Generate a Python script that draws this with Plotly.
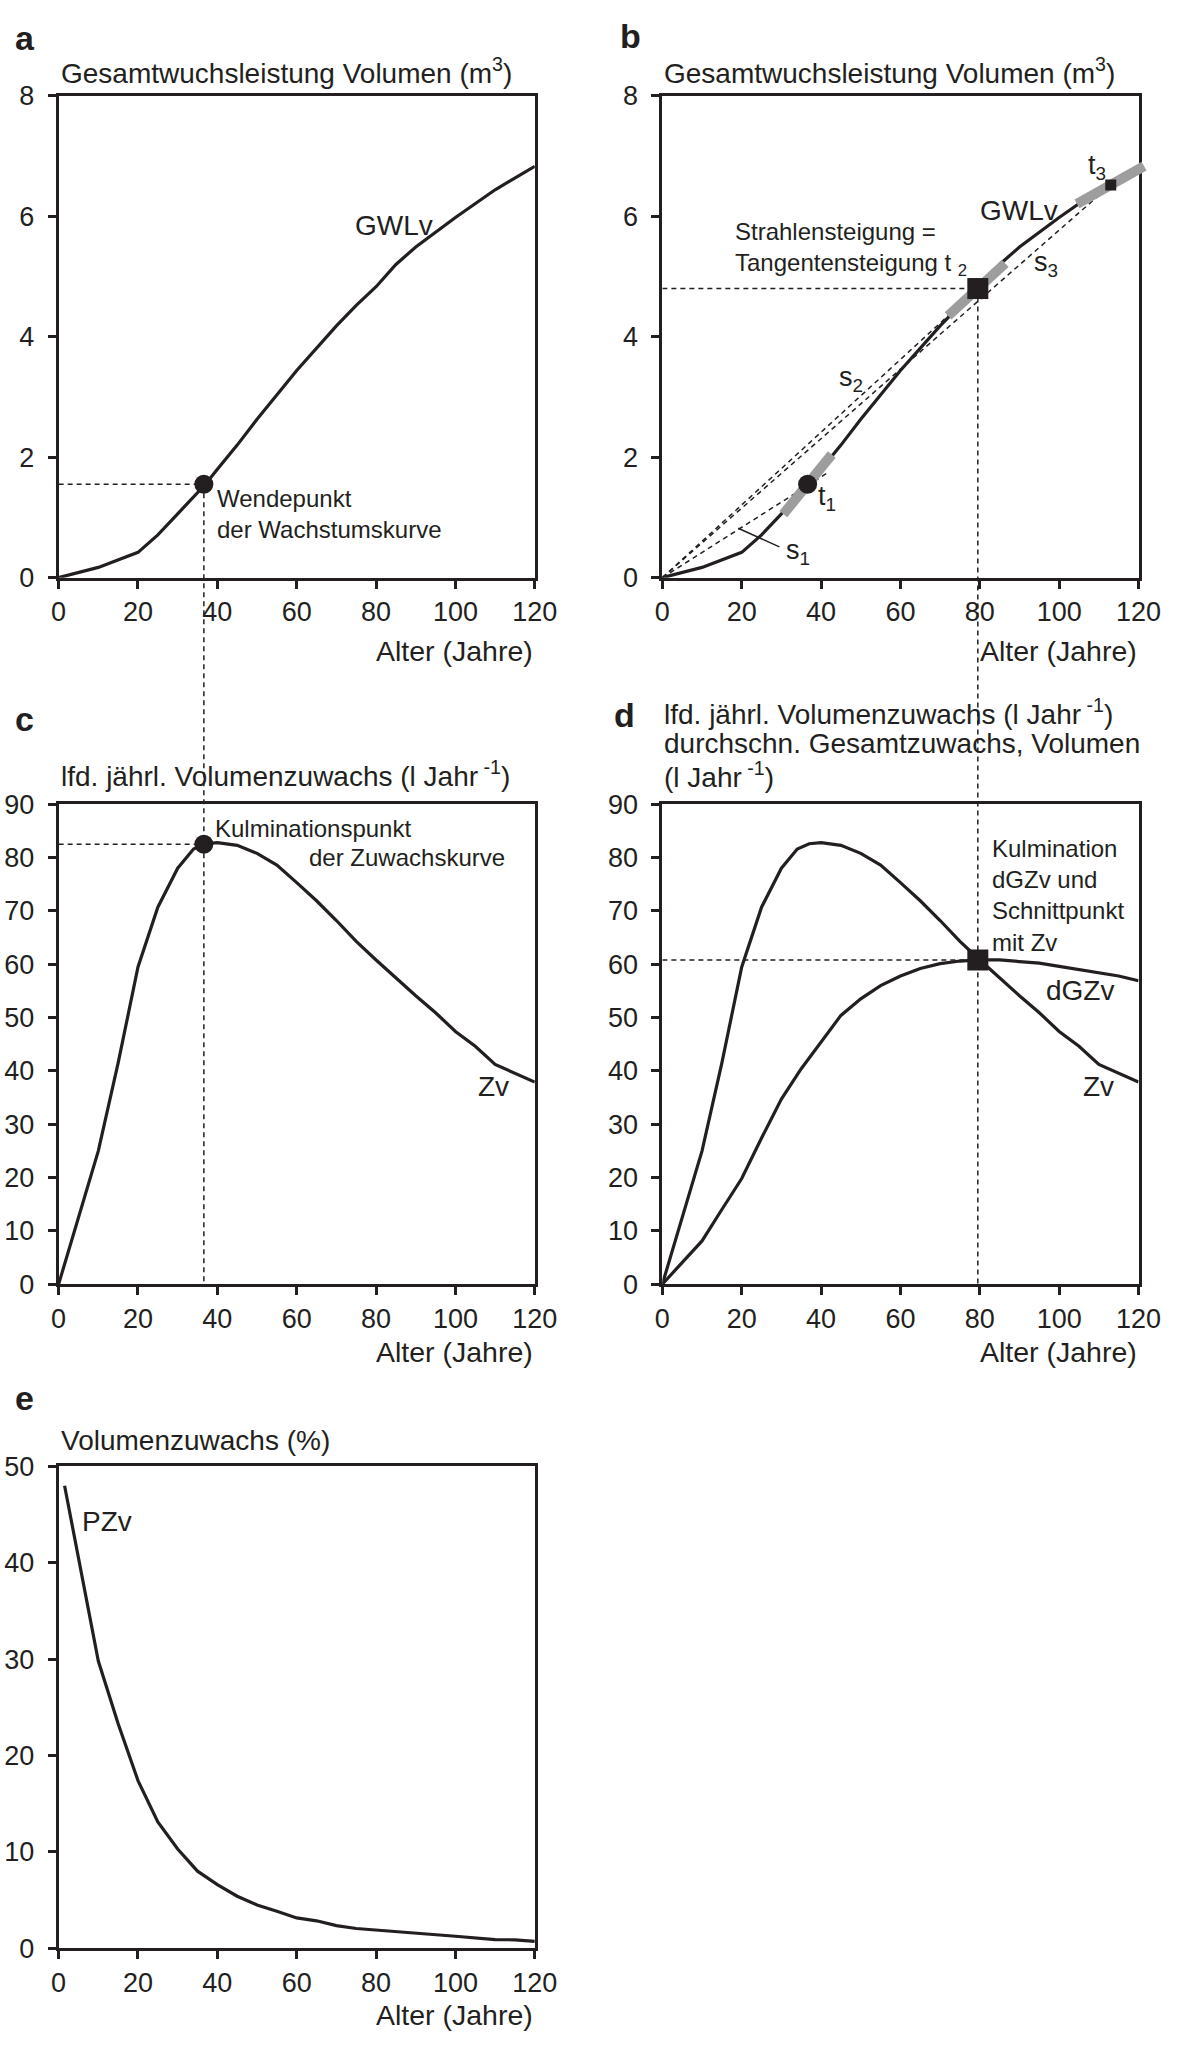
import plotly.graph_objects as go

# ---- values ----
# GWLv: total volume production (m3) by age
AGE = [0, 10, 20, 25, 30, 37, 40, 45, 50, 60, 70, 75, 80, 85, 90, 100, 110, 120]
GWLV = [0, 0.17, 0.42, 0.71, 1.06, 1.55, 1.8, 2.2, 2.63, 3.44, 4.18, 4.52, 4.83, 5.2, 5.49, 5.98, 6.44, 6.83]

# Zv: current annual volume increment (l/year)
ZV_AGE = [0, 10, 15, 20, 25, 30, 34, 37, 40, 45, 50, 55, 60, 65, 70, 75, 80, 85, 90, 95, 100, 105, 110, 120]
ZV = [0, 25, 41.5, 59.5, 70.7, 78, 81.6, 82.6, 82.8, 82.3, 80.8, 78.6, 75.3, 71.9, 68.2, 64.3,
      60.8, 57.4, 54.1, 50.9, 47.4, 44.6, 41.2, 37.9]

# dGZv: mean annual volume increment (l/year)
DGZV_AGE = [0, 10, 15, 20, 25, 30, 35, 40, 45, 50, 55, 60, 65, 70, 75, 80, 85, 90, 95, 100, 110, 115, 120]
DGZV = [0, 8.1, 14, 19.8, 27.4, 34.7, 40.4, 45.4, 50.4, 53.5, 56, 57.8, 59.2, 60.1, 60.6, 60.8,
        60.8, 60.5, 60.2, 59.6, 58.4, 57.8, 56.9]

# PZv: volume increment percent
PZV_AGE = [1.5, 5, 10, 15, 20, 25, 30, 35, 40, 45, 50, 55, 60, 65, 70, 75, 80, 90, 100, 110, 115, 120]
PZV = [48, 40.4, 29.8, 23.3, 17.4, 13.1, 10.3, 8, 6.6, 5.4, 4.5, 3.85, 3.15, 2.85, 2.35, 2.05,
       1.9, 1.6, 1.25, 0.9, 0.88, 0.72]

# special points
WENDE_AGE, WENDE_VOL = 36.6, 1.55      # inflection of GWLv
ZV_PEAK = 82.5                          # culmination of Zv
KULM_AGE, KULM_ZV = 79.5, 60.8          # culmination of dGZv

# tangent points t1..t3 on GWLv and their tangent slopes
T_AGE = [36.6, 79.5, 113]
T_VOL = [1.55, 4.8, 6.52]
T_SLOPE = [0.081, 0.0604, 0.037]
T_FROM = [30.5, 72, 104.5]
T_TO = [42.7, 86.4, 121.4]
T_SYMBOL = ["circle", "square", "square"]
T_SIZE = [19, 21, 11]

# rays s1..s3 from the origin
S_END_AGE = [41.4, 79.5, 113]
S_END_VOL = [1.73, 4.8, 6.52]
S1_LEADER_AGE = [19.1, 29.5]
S1_LEADER_VOL = [0.82, 0.51]

INK = "#231f20"
GRAY = "#9d9d9d"
FONT = "Liberation Sans, Arial, sans-serif"
DASH = "5px,4px"

W, H = 1181, 2049


def fx(px):
    return px / W


def fy(py):
    return 1 - py / H


X_LEFT = [fx(52), fx(541)]
X_RIGHT = [fx(672), fx(1161)]
Y_TOP = [fy(571), fy(82)]
Y_MID = [fy(1288), fy(801)]
Y_BOT = [fy(1962), fy(1473)]


def to_paper(dom, v, vmax):
    return dom[0] + v / vmax * (dom[1] - dom[0])


def axis(dom, rng, dtick, anchor, standoff=None):
    d = dict(domain=dom, range=rng, dtick=dtick, anchor=anchor,
             showline=True, linecolor=INK, linewidth=3, mirror=True,
             ticks="outside", ticklen=8, tickwidth=3, tickcolor=INK,
             showgrid=False, zeroline=False, fixedrange=True,
             tickfont=dict(family=FONT, size=27, color=INK))
    if standoff is not None:
        d["ticklabelstandoff"] = standoff
    return d


fig = go.Figure()


def line(x, y, xa, ya, width=3.2, color=INK, dash=None):
    fig.add_trace(go.Scatter(x=x, y=y, mode="lines", xaxis=xa, yaxis=ya, hoverinfo="skip",
                             line=dict(color=color, width=width, dash=dash)))


def point(x, y, xa, ya, symbol, size):
    fig.add_trace(go.Scatter(x=[x], y=[y], mode="markers", xaxis=xa, yaxis=ya, hoverinfo="skip",
                             marker=dict(symbol=symbol, size=size, color=INK, line=dict(width=0))))


# a
line([0, WENDE_AGE], [WENDE_VOL, WENDE_VOL], "x", "y", 1.5, dash=DASH)
line(AGE, GWLV, "x", "y")
point(WENDE_AGE, WENDE_VOL, "x", "y", "circle", 19)

# b
line([0, T_AGE[1]], [T_VOL[1], T_VOL[1]], "x2", "y2", 1.5, dash=DASH)
for ea, ev in zip(S_END_AGE, S_END_VOL):
    line([0, ea], [0, ev], "x2", "y2", 1.5, dash=DASH)
line(S1_LEADER_AGE, S1_LEADER_VOL, "x2", "y2", 1.5)
line(AGE, GWLV, "x2", "y2")
# tangents and points on a slightly wider invisible subplot so t3 can pass the frame
for a, v, k, f, t in zip(T_AGE, T_VOL, T_SLOPE, T_FROM, T_TO):
    line([f, t], [v + k * (f - a), v + k * (t - a)], "x6", "y6", 10, GRAY)
for a, v, s, z in zip(T_AGE, T_VOL, T_SYMBOL, T_SIZE):
    point(a, v, "x6", "y6", s, z)

# c
line([0, WENDE_AGE], [ZV_PEAK, ZV_PEAK], "x3", "y3", 1.5, dash=DASH)
line(ZV_AGE, ZV, "x3", "y3")
point(WENDE_AGE, ZV_PEAK, "x3", "y3", "circle", 19)

# d
line([0, KULM_AGE], [KULM_ZV, KULM_ZV], "x4", "y4", 1.5, dash=DASH)
line(ZV_AGE, ZV, "x4", "y4")
line(DGZV_AGE, DGZV, "x4", "y4")
point(KULM_AGE, KULM_ZV, "x4", "y4", "square", 21)

# e
line(PZV_AGE, PZV, "x5", "y5")

# long dashed guides running from the upper panels into the middle ones
for xdom, age, vol in [(X_LEFT, WENDE_AGE, WENDE_VOL), (X_RIGHT, KULM_AGE, T_VOL[1])]:
    xp = to_paper(xdom, age, 120)
    fig.add_shape(type="line", xref="paper", yref="paper", x0=xp, x1=xp,
                  y0=to_paper(Y_TOP, vol, 8), y1=Y_MID[0], layer="below",
                  line=dict(color=INK, width=1.5, dash=DASH))

ann = []


def text(x, y, s, xref, yref, size=24, xanchor="left", yanchor="middle", **kw):
    ann.append(dict(x=x, y=y, text=s, xref=xref, yref=yref, showarrow=False,
                    xanchor=xanchor, yanchor=yanchor, align="left",
                    font=dict(family=FONT, size=size, color=INK), **kw))


# panel titles (left edge on the axis) and x axis titles (right edge on the frame)
TITLE_1 = "Gesamtwuchsleistung Volumen (m<sup>3</sup>)"
TITLE_2 = "lfd. jährl. Volumenzuwachs (l Jahr<sup> -1</sup>)"
for xdom, py, s in [(X_LEFT, 57, TITLE_1), (X_RIGHT, 57, TITLE_1), (X_LEFT, 770, TITLE_2),
                    (X_RIGHT, 707, TITLE_2),
                    (X_RIGHT, 739, "durchschn. Gesamtzuwachs, Volumen"),
                    (X_RIGHT, 771, "(l Jahr<sup> -1</sup>)"),
                    (X_LEFT, 1447, "Volumenzuwachs (%)")]:
    text(xdom[0], fy(py), s, "paper", "paper", size=28)
for xdom, py in [(X_LEFT, 645), (X_RIGHT, 645), (X_LEFT, 1357), (X_RIGHT, 1357), (X_LEFT, 2030)]:
    text(xdom[1], fy(py), "Alter (Jahre)", "paper", "paper", size=28.5, xanchor="right")

for lab, px, py in [("a", 5, 23), ("b", 626, 21), ("c", 5, 714), ("d", 620, 710), ("e", 5, 1404)]:
    text(fx(px), fy(py), "<b>%s</b>" % lab, "paper", "paper", size=34)

# a labels
text(84.6, 5.85, "GWLv", "x", "y", 28, "center")
text(39.5, 1.06, "Wendepunkt<br>der Wachstumskurve", "x", "y")
# b labels
text(90, 6.09, "GWLv", "x2", "y2", 28, "center")
text(17.7, 5.46, "Strahlensteigung =<br>Tangentensteigung t <sub>2</sub>", "x2", "y2")
text(34.3, 0.42, "s<sub>1</sub>", "x2", "y2", 27, "center")
text(47.5, 3.3, "s<sub>2</sub>", "x2", "y2", 27, "center")
text(96.7, 5.2, "s<sub>3</sub>", "x2", "y2", 27, "center")
text(41.5, 1.33, "t<sub>1</sub>", "x2", "y2", 27, "center")
text(109.5, 6.81, "t<sub>3</sub>", "x2", "y2", 27, "center")
# c labels
text(38.8, 85.5, "Kulminationspunkt", "x3", "y3")
text(62.7, 80.1, "der Zuwachskurve", "x3", "y3")
text(109.5, 37, "Zv", "x3", "y3", 28, "center")
# d labels
text(82.5, 72.8, "Kulmination<br>dGZv und<br>Schnittpunkt<br>mit Zv", "x4", "y4")
text(105.3, 55, "dGZv", "x4", "y4", 28, "center")
text(110, 37, "Zv", "x4", "y4", 28, "center")
# e labels
text(12.2, 44.3, "PZv", "x5", "y5", 28, "center")

wide = to_paper(X_RIGHT, 123, 120)

fig.update_layout(
    width=W, height=H, margin=dict(l=0, r=0, t=0, b=0),
    paper_bgcolor="white", plot_bgcolor="rgba(0,0,0,0)", showlegend=False,
    xaxis=axis(X_LEFT, [0, 120], 20, "y"), yaxis=axis(Y_TOP, [0, 8], 2, "x", 8),
    xaxis2=axis(X_RIGHT, [0, 120], 20, "y2"), yaxis2=axis(Y_TOP, [0, 8], 2, "x2", 8),
    xaxis3=axis(X_LEFT, [0, 120], 20, "y3"), yaxis3=axis(Y_MID, [0, 90], 10, "x3", 8),
    xaxis4=axis(X_RIGHT, [0, 120], 20, "y4"), yaxis4=axis(Y_MID, [0, 90], 10, "x4", 8),
    xaxis5=axis(X_LEFT, [0, 120], 20, "y5"), yaxis5=axis(Y_BOT, [0, 50], 10, "x5", 8),
    xaxis6=dict(domain=[X_RIGHT[0], wide], range=[0, 123], anchor="y6", visible=False, fixedrange=True),
    yaxis6=dict(domain=Y_TOP, range=[0, 8], anchor="x6", visible=False, fixedrange=True),
    annotations=ann,
)

# drop the default body margin so the figure fills the window exactly
fig.write_html("out.html", config={"displayModeBar": False},
               post_script="document.body.style.margin='0';")
